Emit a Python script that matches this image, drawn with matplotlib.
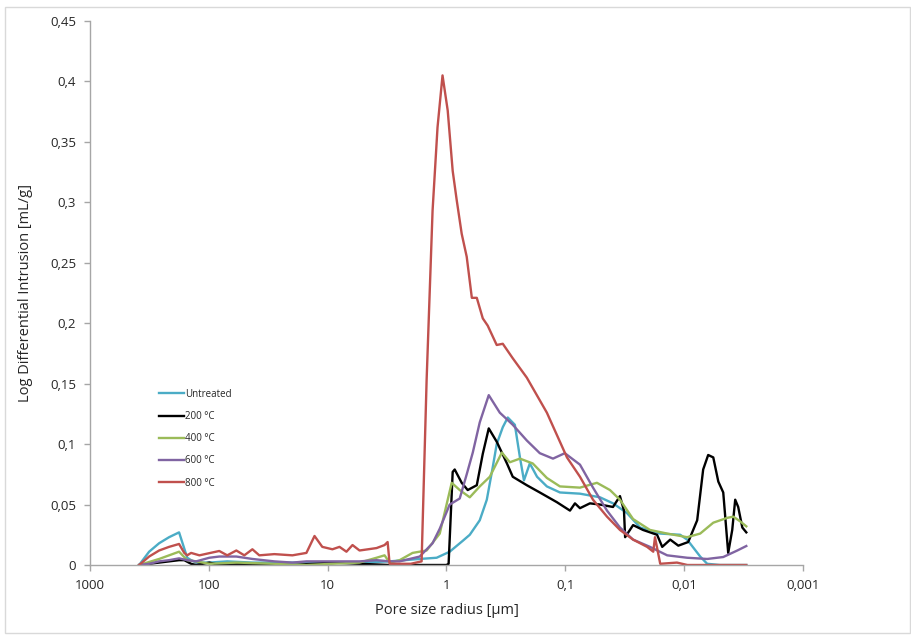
import matplotlib
matplotlib.use("Agg")
import matplotlib.pyplot as plt
from matplotlib.ticker import FixedLocator, FixedFormatter, NullLocator
from matplotlib.patches import Rectangle

plt.rcParams['font.family'] = ['Open Sans', 'DejaVu Sans']

# ---- data: pore radius [um] and log differential intrusion [mL/g] ----
untreated_r = [386, 318, 262, 216, 178, 152, 141, 128, 99, 70, 43, 19.8, 9.12, 5.39, 3.01,
               1.68, 1.21, 0.94, 0.73, 0.637, 0.525, 0.458, 0.408, 0.378, 0.336, 0.305, 0.266,
               0.241, 0.223, 0.199, 0.173, 0.143, 0.111, 0.0753, 0.0511, 0.0397, 0.0303, 0.0235,
               0.0159, 0.0108, 0.00944, 0.00733, 0.0064, 0.005, 0.003]
untreated_v = [0.0, 0.011, 0.018, 0.023, 0.027, 0.006, 0.004, 0.002, 0.002, 0.003, 0.002, 0.002,
               0.002, 0.002, 0.003, 0.005, 0.006, 0.011, 0.020, 0.025, 0.037, 0.054, 0.081, 0.100,
               0.114, 0.122, 0.116, 0.089, 0.070, 0.084, 0.073, 0.065, 0.060, 0.059, 0.056, 0.051,
               0.043, 0.031, 0.026, 0.025, 0.021, 0.007, 0.001, 0.0, 0.0]

c200_r = [386, 262, 178, 161, 141, 128, 99, 81.7, 43, 19.8, 9.12, 5.39, 3.01, 1.0, 0.96,
          0.887, 0.853, 0.745, 0.663, 0.556, 0.495, 0.441, 0.378, 0.310, 0.277, 0.211, 0.164,
          0.118, 0.0914, 0.0830, 0.0753, 0.0621, 0.0511, 0.0397, 0.0347, 0.0321, 0.0314, 0.0269,
          0.0222, 0.0169, 0.0153, 0.0131, 0.0112, 0.00925, 0.00777, 0.00692, 0.00628, 0.00569,
          0.00516, 0.00469, 0.00426, 0.00394, 0.00372, 0.00351, 0.00324, 0.003]
c200_v = [0.0, 0.002, 0.004, 0.004, 0.001, 0.0, 0.002, 0.0, 0.001, 0.0, 0.002, 0.001, 0.0, 0.0,
          0.001, 0.077, 0.079, 0.068, 0.062, 0.066, 0.092, 0.113, 0.102, 0.084, 0.073, 0.066,
          0.060, 0.052, 0.045, 0.051, 0.047, 0.051, 0.050, 0.048, 0.057, 0.045, 0.023, 0.033,
          0.029, 0.025, 0.015, 0.021, 0.016, 0.019, 0.037, 0.079, 0.091, 0.089, 0.069, 0.060,
          0.010, 0.029, 0.054, 0.048, 0.031, 0.027]

c400_r = [386, 262, 178, 152, 128, 99, 58.7, 28.1, 15.1, 9.12, 5.39, 3.88, 3.32, 3.01, 2.48,
          1.93, 1.47, 1.14, 0.904, 0.774, 0.637, 0.525, 0.432, 0.342, 0.293, 0.241, 0.188,
          0.143, 0.111, 0.0753, 0.0542, 0.0421, 0.0347, 0.0269, 0.0194, 0.0139, 0.00944,
          0.00733, 0.00569, 0.00434, 0.00386, 0.00337, 0.003]
c400_v = [0.0, 0.005, 0.011, 0.004, 0.003, 0.001, 0.002, 0.001, 0.0, 0.001, 0.002, 0.006, 0.008,
          0.002, 0.004, 0.010, 0.012, 0.026, 0.068, 0.062, 0.056, 0.065, 0.073, 0.093, 0.085,
          0.088, 0.084, 0.072, 0.065, 0.064, 0.068, 0.062, 0.054, 0.038, 0.029, 0.026, 0.023,
          0.026, 0.035, 0.039, 0.040, 0.036, 0.032]

c600_r = [386, 318, 262, 216, 178, 152, 128, 99, 81.7, 58.7, 43, 28.1, 19.8, 15.1, 9.12, 5.39,
          3.88, 3.01, 2.48, 1.68, 1.31, 1.14, 0.94, 0.774, 0.676, 0.601, 0.525, 0.441, 0.356,
          0.277, 0.211, 0.164, 0.127, 0.101, 0.0753, 0.0585, 0.0446, 0.0347, 0.0269, 0.0194,
          0.0139, 0.00944, 0.0064, 0.00469, 0.00357, 0.003]
c600_v = [0.0, 0.001, 0.003, 0.004, 0.0055, 0.004, 0.003, 0.006, 0.007, 0.007, 0.005, 0.003,
          0.002, 0.003, 0.003, 0.003, 0.004, 0.003, 0.003, 0.007, 0.018, 0.030, 0.050, 0.055,
          0.075, 0.093, 0.118, 0.1405, 0.126, 0.116, 0.103, 0.0925, 0.088, 0.0925, 0.083, 0.064,
          0.045, 0.031, 0.021, 0.015, 0.008, 0.006, 0.005, 0.0066, 0.012, 0.0157]

c800_r = [386, 318, 262, 216, 178, 161, 152, 141, 120, 81.7, 70, 58.7, 50.3, 43, 37.6, 28.1,
          19.8, 15.1, 12.9, 11.1, 9.12, 7.95, 6.95, 6.18, 5.39, 3.88, 3.32, 3.13, 3.01, 2.0,
          1.62, 1.47, 1.31, 1.19, 1.08, 0.977, 0.887, 0.821, 0.745, 0.676, 0.612, 0.556, 0.495,
          0.450, 0.378, 0.336, 0.277, 0.211, 0.143, 0.0969, 0.0753, 0.0585, 0.0446, 0.0347,
          0.0269, 0.0205, 0.0182, 0.0176, 0.0159, 0.0115, 0.0094, 0.003]
c800_v = [0.0, 0.007, 0.012, 0.015, 0.0174, 0.010, 0.008, 0.010, 0.008, 0.0116, 0.008, 0.012,
          0.008, 0.013, 0.008, 0.009, 0.008, 0.010, 0.024, 0.015, 0.013, 0.015, 0.011, 0.0165,
          0.012, 0.014, 0.0165, 0.019, 0.001, 0.001, 0.003, 0.153, 0.293, 0.362, 0.405, 0.376,
          0.326, 0.302, 0.274, 0.255, 0.221, 0.221, 0.204, 0.198, 0.182, 0.183, 0.171, 0.155,
          0.126, 0.089, 0.073, 0.054, 0.040, 0.029, 0.021, 0.015, 0.011, 0.023, 0.001, 0.002,
          0.0, 0.0]

series_labels = ['Untreated', '200 °C', '400 °C', '600 °C', '800 °C']
series_colors = ['#4BACC6', '#000000', '#9BBB59', '#8064A2', '#C0504D']

y_ticks = [0, 0.05, 0.1, 0.15, 0.2, 0.25, 0.3, 0.35, 0.4, 0.45]
y_ticklabels = ['0', '0,05', '0,1', '0,15', '0,2', '0,25', '0,3', '0,35', '0,4', '0,45']
x_ticks = [1000, 100, 10, 1, 0.1, 0.01, 0.001]
x_ticklabels = ['1000', '100', '10', '1', '0,1', '0,01', '0,001']

# ---- figure ----
fig = plt.figure(figsize=(9.12, 6.35), dpi=100)
fig.patches.append(Rectangle((5 / 912, 2 / 635), 905 / 912, 626 / 635, transform=fig.transFigure,
                             fill=False, edgecolor='#d9d9d9', linewidth=1.0))
ax = fig.add_axes([90 / 912, 1 - 565 / 635, 713 / 912, 544 / 635])

xs = [untreated_r, c200_r, c400_r, c600_r, c800_r]
ys = [untreated_v, c200_v, c400_v, c600_v, c800_v]
for x, y, lab, col in zip(xs, ys, series_labels, series_colors):
    ax.plot(x, y, color=col, linewidth=1.7, label=lab, solid_joinstyle='round')

ax.set_xscale('log')
ax.set_xlim(1000, 0.001)
ax.set_ylim(0, 0.45)

ax.xaxis.set_major_locator(FixedLocator(x_ticks))
ax.xaxis.set_major_formatter(FixedFormatter(x_ticklabels))
ax.xaxis.set_minor_locator(NullLocator())
ax.yaxis.set_major_locator(FixedLocator(y_ticks))
ax.yaxis.set_major_formatter(FixedFormatter(y_ticklabels))

for s in ['top', 'right']:
    ax.spines[s].set_visible(False)
for s in ['left', 'bottom']:
    ax.spines[s].set_color('#a6a6a6')
    ax.spines[s].set_linewidth(1.0)
ax.tick_params(axis='both', direction='out', length=4, width=1.0, color='#a6a6a6',
               labelsize=9.5, labelcolor='#262626', pad=6)

ax.set_xlabel('Pore size radius [μm]', fontsize=10.5, color='#262626', labelpad=8)
ax.set_ylabel('Log Differential Intrusion [mL/g]', fontsize=10.5, color='#262626', labelpad=12)

leg = ax.legend(loc='upper left', bbox_to_anchor=(0.092, 0.331), frameon=False, fontsize=7,
                handlelength=2.5, handletextpad=0.1, labelspacing=1.15, borderaxespad=0)
for t in leg.get_texts():
    t.set_color('#262626')

fig.savefig('out.png', dpi=100)
